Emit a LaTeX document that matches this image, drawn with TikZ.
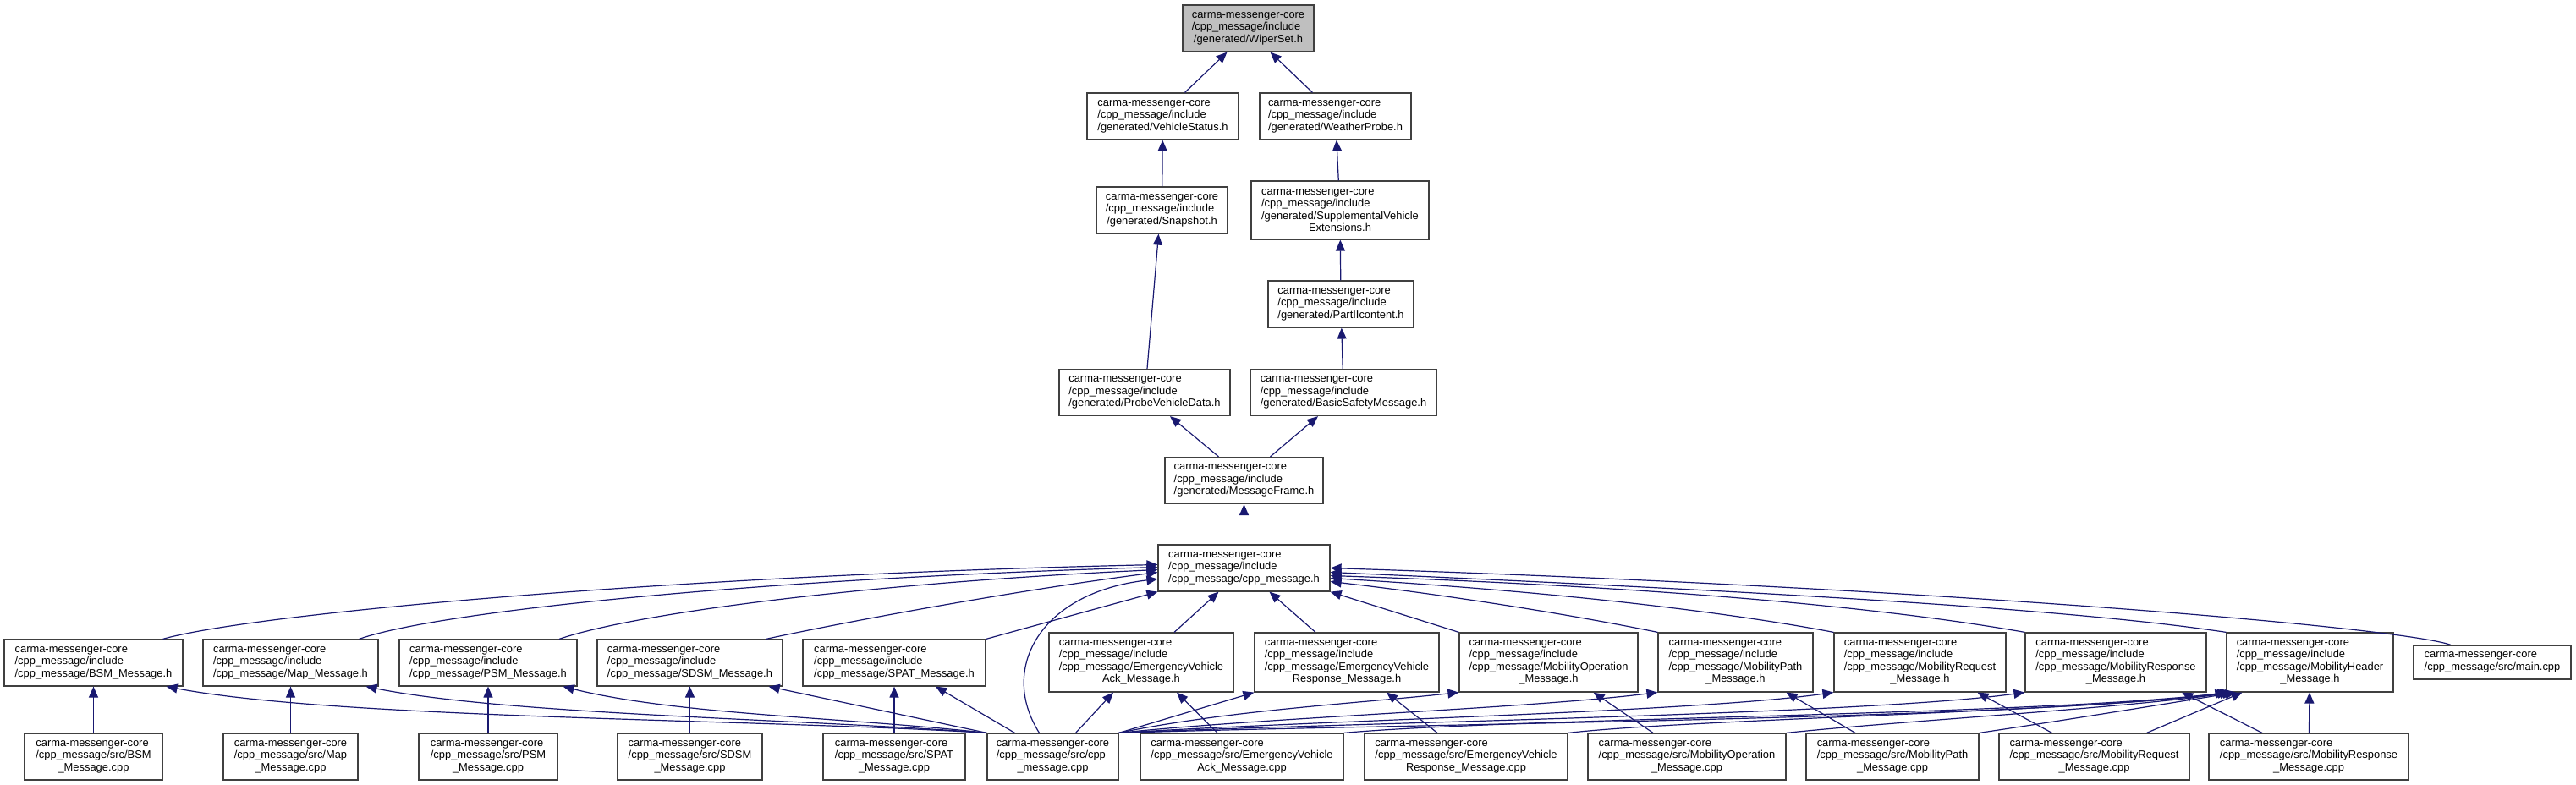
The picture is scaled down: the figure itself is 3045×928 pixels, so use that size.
\documentclass[tikz,border=0pt]{standalone}
\usepackage{fontspec}
\setmainfont{Liberation Sans}
\usepackage{xcolor}
\definecolor{depblue}{RGB}{25,25,112}
\definecolor{selgray}{RGB}{191,191,191}
\definecolor{boxline}{RGB}{64,64,64}
\usepackage{tikz}
\usetikzlibrary{arrows.meta}
\newcommand{\lastl}[1]{\hspace*{\fill}#1\hspace*{\fill}}

\begin{document}
\begin{tikzpicture}[x=1pt,y=-1pt,
hfile/.style={draw=boxline,line width=1.2pt,fill=white,align=left,inner xsep=10pt,inner ysep=0pt,minimum height=55pt,font=\fontsize{12.9}{14.5}\selectfont},
hfilet/.style={hfile,minimum height=70pt},
sel/.style={hfile,fill=selgray},
dep/.style={-{Triangle[length=13pt,width=11pt]},draw=depblue,line width=1.2pt}]
\useasboundingbox (0,0) rectangle (3045,928);
% generated headers
\node[sel,minimum width=155pt] (wiper) at (1475.5,33.5) {carma-messenger-core\\/cpp\_message/include\\\lastl{/generated/WiperSet.h}};
\node[hfile,minimum width=179pt] (vstatus) at (1374.5,137.5) {carma-messenger-core\\/cpp\_message/include\\\lastl{/generated/VehicleStatus.h}};
\node[hfile,minimum width=179pt] (weather) at (1578.5,137.5) {carma-messenger-core\\/cpp\_message/include\\\lastl{/generated/WeatherProbe.h}};
\node[hfile,minimum width=155pt] (snapshot) at (1373.5,248.5) {carma-messenger-core\\/cpp\_message/include\\\lastl{/generated/Snapshot.h}};
\node[hfile,minimum width=210pt,minimum height=69pt] (suppl) at (1584,248.5) {carma-messenger-core\\/cpp\_message/include\\/generated/SupplementalVehicle\\\lastl{Extensions.h}};
\node[hfile,minimum width=172pt] (partii) at (1585,359.5) {carma-messenger-core\\/cpp\_message/include\\\lastl{/generated/PartIIcontent.h}};
\node[hfile,minimum width=202pt] (probe) at (1353,464) {carma-messenger-core\\/cpp\_message/include\\\lastl{/generated/ProbeVehicleData.h}};
\node[hfile,minimum width=220pt] (bsafety) at (1588,464) {carma-messenger-core\\/cpp\_message/include\\\lastl{/generated/BasicSafetyMessage.h}};
\node[hfile,minimum width=187pt] (msgframe) at (1470.5,568) {carma-messenger-core\\/cpp\_message/include\\\lastl{/generated/MessageFrame.h}};
\node[hfile,minimum width=203pt] (cpph) at (1470.5,671.5) {carma-messenger-core\\/cpp\_message/include\\\lastl{/cpp\_message/cpp\_message.h}};
% message headers
\node[hfile,minimum width=211pt] (bsmh) at (110.5,783.5) {carma-messenger-core\\/cpp\_message/include\\\lastl{/cpp\_message/BSM\_Message.h}};
\node[hfile,minimum width=207pt] (maph) at (343.5,783.5) {carma-messenger-core\\/cpp\_message/include\\\lastl{/cpp\_message/Map\_Message.h}};
\node[hfile,minimum width=210pt] (psmh) at (577,783.5) {carma-messenger-core\\/cpp\_message/include\\\lastl{/cpp\_message/PSM\_Message.h}};
\node[hfile,minimum width=219pt] (sdsmh) at (815.5,783.5) {carma-messenger-core\\/cpp\_message/include\\\lastl{/cpp\_message/SDSM\_Message.h}};
\node[hfile,minimum width=216pt] (spath) at (1057,783.5) {carma-messenger-core\\/cpp\_message/include\\\lastl{/cpp\_message/SPAT\_Message.h}};
\node[hfilet,minimum width=218pt] (evackh) at (1349,783) {carma-messenger-core\\/cpp\_message/include\\/cpp\_message/EmergencyVehicle\\\lastl{Ack\_Message.h}};
\node[hfilet,minimum width=218pt] (evresph) at (1592,783) {carma-messenger-core\\/cpp\_message/include\\/cpp\_message/EmergencyVehicle\\\lastl{Response\_Message.h}};
\node[hfilet,minimum width=211pt] (mobooph) at (1830.5,783) {carma-messenger-core\\/cpp\_message/include\\/cpp\_message/MobilityOperation\\\lastl{\_Message.h}};
\node[hfilet,minimum width=183pt] (mobpathh) at (2051.5,783) {carma-messenger-core\\/cpp\_message/include\\/cpp\_message/MobilityPath\\\lastl{\_Message.h}};
\node[hfilet,minimum width=203pt] (mobreqh) at (2269.5,783) {carma-messenger-core\\/cpp\_message/include\\/cpp\_message/MobilityRequest\\\lastl{\_Message.h}};
\node[hfilet,minimum width=214pt] (mobresph) at (2501,783) {carma-messenger-core\\/cpp\_message/include\\/cpp\_message/MobilityResponse\\\lastl{\_Message.h}};
\node[hfilet,minimum width=197pt] (mobheadh) at (2730.5,783) {carma-messenger-core\\/cpp\_message/include\\/cpp\_message/MobilityHeader\\\lastl{\_Message.h}};
\node[hfile,minimum width=186pt,minimum height=40pt] (mainc) at (2946,783) {carma-messenger-core\\\lastl{/cpp\_message/src/main.cpp}};
% sources
\node[hfile,minimum width=163pt] (bsmc) at (110.5,894.5) {carma-messenger-core\\/cpp\_message/src/BSM\\\lastl{\_Message.cpp}};
\node[hfile,minimum width=159pt] (mapc) at (343.5,894.5) {carma-messenger-core\\/cpp\_message/src/Map\\\lastl{\_Message.cpp}};
\node[hfile,minimum width=164pt] (psmc) at (577,894.5) {carma-messenger-core\\/cpp\_message/src/PSM\\\lastl{\_Message.cpp}};
\node[hfile,minimum width=171pt] (sdsmc) at (815.5,894.5) {carma-messenger-core\\/cpp\_message/src/SDSM\\\lastl{\_Message.cpp}};
\node[hfile,minimum width=168pt] (spatc) at (1057,894.5) {carma-messenger-core\\/cpp\_message/src/SPAT\\\lastl{\_Message.cpp}};
\node[hfile,minimum width=155pt] (cppc) at (1244.5,894.5) {carma-messenger-core\\/cpp\_message/src/cpp\\\lastl{\_message.cpp}};
\node[hfile,minimum width=240pt] (evackc) at (1468,894.5) {carma-messenger-core\\/cpp\_message/src/EmergencyVehicle\\\lastl{Ack\_Message.cpp}};
\node[hfile,minimum width=240pt] (evrespc) at (1733,894.5) {carma-messenger-core\\/cpp\_message/src/EmergencyVehicle\\\lastl{Response\_Message.cpp}};
\node[hfile,minimum width=234pt] (mobopc) at (1994,894.5) {carma-messenger-core\\/cpp\_message/src/MobilityOperation\\\lastl{\_Message.cpp}};
\node[hfile,minimum width=204pt] (mobpathc) at (2237,894.5) {carma-messenger-core\\/cpp\_message/src/MobilityPath\\\lastl{\_Message.cpp}};
\node[hfile,minimum width=225pt] (mobreqc) at (2475.5,894.5) {carma-messenger-core\\/cpp\_message/src/MobilityRequest\\\lastl{\_Message.cpp}};
\node[hfile,minimum width=236pt] (mobrespc) at (2729,894.5) {carma-messenger-core\\/cpp\_message/src/MobilityResponse\\\lastl{\_Message.cpp}};
% upper chain
\draw[dep] ([xshift=26pt]vstatus.north) -- ([xshift=-25pt]wiper.south);
\draw[dep] ([xshift=-27pt]weather.north) -- ([xshift=26pt]wiper.south);
\draw[dep] (snapshot) -- (vstatus);
\draw[dep] (suppl) -- (weather);
\draw[dep] ([xshift=3pt]probe.north) -- ([xshift=-4pt]snapshot.south);
\draw[dep] (partii) -- (suppl);
\draw[dep] (bsafety) -- (partii);
\draw[dep] ([xshift=-30pt]msgframe.north) -- ([xshift=30pt]probe.south);
\draw[dep] ([xshift=31pt]msgframe.north) -- ([xshift=-30pt]bsafety.south);
\draw[dep] (cpph) -- (msgframe);
% into cpp_message.h
\draw[dep] ([xshift=82pt]bsmh.north) .. controls (300,725) and (800,680) .. ([yshift=4pt]cpph.west);
\draw[dep] ([xshift=81pt]maph.north) .. controls (520,722) and (900,684) .. ([yshift=1pt]cpph.west);
\draw[dep] ([xshift=84pt]psmh.north) .. controls (760,722) and (1050,688) .. ([yshift=-2pt]cpph.west);
\draw[dep] ([xshift=90pt]sdsmh.north) .. controls (1000,735) and (1200,698) .. ([yshift=-5pt]cpph.west);
\draw[dep] (spath.north east) -- (cpph.south west);
\draw[dep] ([xshift=-16pt]cppc.north) .. controls (1180,790) and (1230,700) .. ([yshift=-13pt]cpph.west);
\draw[dep] ([xshift=39pt]evackh.north) -- ([xshift=-30pt]cpph.south);
\draw[dep] ([xshift=-37pt]evresph.north) -- ([xshift=30pt]cpph.south);
\draw[dep] (mobooph.north west) -- (cpph.south east);
\draw[dep] (mobpathh.north west) .. controls (1850,725) and (1700,702) .. ([yshift=-16pt]cpph.east);
\draw[dep] (mobreqh.north west) .. controls (2050,725) and (1850,700) .. ([yshift=-12pt]cpph.east);
\draw[dep] (mobresph.north west) .. controls (2250,722) and (2000,695) .. ([yshift=-9pt]cpph.east);
\draw[dep] (mobheadh.north west) .. controls (2450,720) and (2100,700) .. ([yshift=-5pt]cpph.east);
\draw[dep] ([xshift=-49pt]mainc.north) .. controls (2840,742) and (2300,695) .. (cpph.east);
% sources to own headers
\draw[dep] (bsmc) -- (bsmh);
\draw[dep] (mapc) -- (maph);
\draw[dep] (psmc) -- (psmh);
\draw[dep] (sdsmc) -- (sdsmh);
\draw[dep] (spatc) -- (spath);
\draw[dep] ([xshift=-29pt]evackc.north) -- ([xshift=42pt]evackh.south);
\draw[dep] ([xshift=-34pt]evrespc.north) -- ([xshift=47pt]evresph.south);
\draw[dep] ([xshift=-40pt]mobopc.north) -- ([xshift=53pt]mobooph.south);
\draw[dep] ([xshift=-44pt]mobpathc.north) -- ([xshift=60pt]mobpathh.south);
\draw[dep] ([xshift=-50pt]mobreqc.north) -- ([xshift=68pt]mobreqh.south);
\draw[dep] ([xshift=-55pt]mobrespc.north) -- ([xshift=78pt]mobresph.south);
\draw[dep] (mobrespc) -- (mobheadh);
% cpp_message.cpp includes all headers
\draw[dep] (cppc.north west) .. controls (900,850) and (400,850) .. ([xshift=-20pt]bsmh.south east);
\draw[dep] (cppc.north west) .. controls (950,850) and (600,845) .. ([xshift=-15pt]maph.south east);
\draw[dep] (cppc.north west) .. controls (1000,848) and (800,845) .. ([xshift=-17pt]psmh.south east);
\draw[dep] (cppc.north west) -- ([xshift=-17pt]sdsmh.south east);
\draw[dep] ([xshift=-45pt]cppc.north) -- ([xshift=49pt]spath.south);
\draw[dep] ([xshift=27pt]cppc.north) -- ([xshift=-33pt]evackh.south);
\draw[dep] (cppc.north east) -- (evresph.south west);
\draw[dep] (cppc.north east) .. controls (1450,840) and (1600,832) .. (mobooph.south west);
\draw[dep] (cppc.north east) .. controls (1500,848) and (1800,838) .. (mobpathh.south west);
\draw[dep] (cppc.north east) .. controls (1550,852) and (2000,842) .. (mobreqh.south west);
\draw[dep] (cppc.north east) .. controls (1600,854) and (2200,845) .. (mobresph.south west);
\draw[dep] (cppc.north east) .. controls (1650,856) and (2400,850) .. (mobheadh.south west);
% other sources into MobilityHeader
\draw[dep] (evackc.north east) .. controls (1800,848) and (2400,846) .. ([xshift=3pt]mobheadh.south west);
\draw[dep] (evrespc.north east) .. controls (2000,850) and (2450,842) .. ([xshift=6pt]mobheadh.south west);
\draw[dep] (mobopc.north east) .. controls (2250,852) and (2500,838) .. ([xshift=9pt]mobheadh.south west);
\draw[dep] (mobpathc.north east) .. controls (2450,850) and (2560,832) .. ([xshift=12pt]mobheadh.south west);
\draw[dep] ([xshift=62pt]mobreqc.north) -- ([xshift=-80pt]mobheadh.south);
\end{tikzpicture}
\end{document}
